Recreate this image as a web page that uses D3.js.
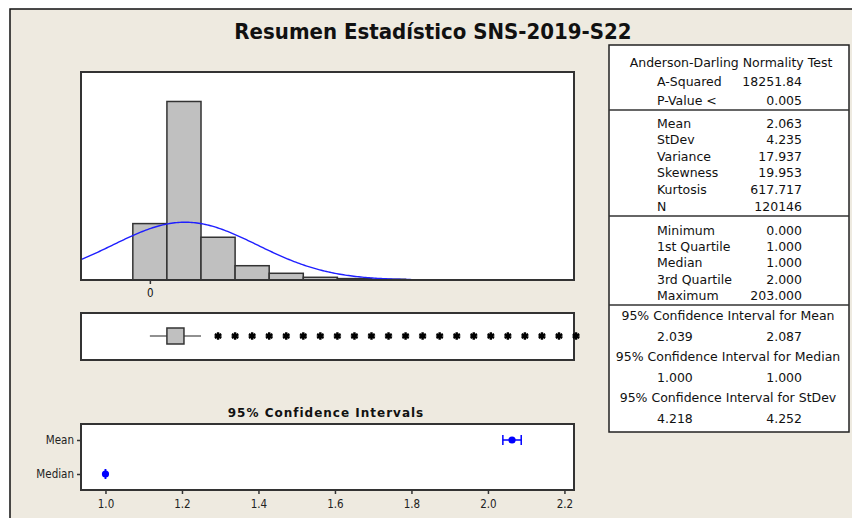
<!DOCTYPE html>
<html>
<head>
<meta charset="utf-8">
<script src="https://cdn.jsdelivr.net/npm/d3@7"></script>
<style>
  body { margin: 0; background: #ffffff; }
  svg { display: block; }
</style>
</head>
<body>
<svg id="my-svg"></svg>
<script>
// histogram bins (midpoints, width 2) and counts
const binMids = [0, 2, 4, 6, 8, 10, 12, 14];
const binCounts = [22100, 69950, 16750, 5600, 2630, 1060, 550, 280];
const binWidth = 2;

// summary statistics
const mean = 2.063, stdev = 4.235, n = 120146;
const boxStats = { q1: 1, median: 1, q3: 2, lo: 0, hi: 3 };
const outliers = [4, 5, 6, 7, 8, 9, 10, 11, 12, 13, 14, 15, 16, 17, 18, 19, 20, 21, 22, 23, 24, 25];

// confidence intervals
const ciNames = ["Mean", "Median"];
const ciCentre = [2.063, 1.000];
const ciLow = [2.039, 1.000];
const ciHigh = [2.087, 1.000];
const ciTicks = [1.0, 1.2, 1.4, 1.6, 1.8, 2.0, 2.2];

// table text
const adRows = [["A-Squared", "18251.84"], ["P-Value <", "0.005"]];
const momentRows = [["Mean", "2.063"], ["StDev", "4.235"], ["Variance", "17.937"],
                    ["Skewness", "19.953"], ["Kurtosis", "617.717"], ["N", "120146"]];
const quantRows = [["Minimum", "0.000"], ["1st Quartile", "1.000"], ["Median", "1.000"],
                   ["3rd Quartile", "2.000"], ["Maximum", "203.000"]];
const ciHeads = ["95% Confidence Interval for Mean", "95% Confidence Interval for Median", "95% Confidence Interval for StDev"];
const ciVals = [["2.039", "2.087"], ["1.000", "1.000"], ["4.218", "4.252"]];

const W = 852, H = 518;
const svg = d3.select("#my-svg").attr("width", W).attr("height", H);
const bg = "#eeeae0";
const edge = "#333333";

svg.append("rect").attr("x", 10).attr("y", 9).attr("width", W).attr("height", H)
    .attr("fill", bg).attr("stroke", "#111").attr("stroke-width", 1.5);

svg.append("text").attr("x", 433).attr("y", 39).attr("text-anchor", "middle")
    .attr("font-family", "DejaVu Sans Condensed").attr("font-weight", "bold")
    .attr("font-size", 22).attr("fill", "#111").text("Resumen Estadístico SNS-2019-S22");

// ---------- histogram ----------
const hx = d3.scaleLinear().domain([-4.04, 24.88]).range([81, 574]);
const hy = d3.scaleLinear().domain([0, 81500]).range([280, 72]);

svg.append("rect").attr("x", 81).attr("y", 72).attr("width", 493).attr("height", 208)
    .attr("fill", "#fff");

svg.selectAll("rect.bar").data(binMids).enter().append("rect")
    .attr("class", "bar")
    .attr("x", d => hx(d - binWidth / 2))
    .attr("width", d => hx(d + binWidth / 2) - hx(d - binWidth / 2))
    .attr("y", (d, i) => hy(binCounts[i]))
    .attr("height", (d, i) => hy(0) - hy(binCounts[i]))
    .attr("fill", "#c0c0c0").attr("stroke", edge).attr("stroke-width", 1.5);

const curveX = d3.range(-4.04, 17.8, 0.1);
const norm = x => n * binWidth * Math.exp(-0.5 * Math.pow((x - mean) / stdev, 2)) / (stdev * Math.sqrt(2 * Math.PI));
svg.append("path").datum(curveX)
    .attr("d", d3.line().x(d => hx(d)).y(d => hy(norm(d))))
    .attr("fill", "none").attr("stroke", "#1f1fff").attr("stroke-width", 1.4);

svg.append("rect").attr("x", 81).attr("y", 72).attr("width", 493).attr("height", 208)
    .attr("fill", "none").attr("stroke", edge).attr("stroke-width", 2);

const hAxis = svg.append("g").attr("transform", "translate(0,280)")
    .call(d3.axisBottom(hx).tickValues([0]).tickSize(4).tickSizeOuter(0));
hAxis.select(".domain").remove();
hAxis.selectAll("text").attr("font-family", "DejaVu Sans Condensed").attr("font-size", 11.5).attr("fill", "#111").attr("dy", "0.9em");
hAxis.selectAll("line").attr("stroke", edge).attr("stroke-width", 1.5);

// ---------- boxplot ----------
const by = 336;
svg.append("rect").attr("x", 81).attr("y", 313).attr("width", 493).attr("height", 47)
    .attr("fill", "#fff").attr("stroke", edge).attr("stroke-width", 2);
svg.append("line").attr("x1", hx(boxStats.lo)).attr("x2", hx(boxStats.hi))
    .attr("y1", by).attr("y2", by).attr("stroke", "#222").attr("stroke-width", 1.2);
svg.append("rect").attr("x", hx(boxStats.q1)).attr("y", by - 8)
    .attr("width", hx(boxStats.q3) - hx(boxStats.q1)).attr("height", 16)
    .attr("fill", "#c0c0c0").attr("stroke", edge).attr("stroke-width", 1.5);
svg.selectAll("path.out").data(outliers).enter().append("path")
    .attr("class", "out")
    .attr("transform", d => `translate(${hx(d)},${by})`)
    .attr("d", d3.symbol(d3.symbolAsterisk, 40))
    .attr("fill", "none").attr("stroke", "#000").attr("stroke-width", 2.4);

// ---------- confidence intervals ----------
const cx = d3.scaleLinear().domain([0.936, 2.225]).range([81, 574]);
const cy = d3.scalePoint().domain(ciNames).range([440, 474]);

svg.append("text").attr("x", 326).attr("y", 417).attr("text-anchor", "middle")
    .attr("font-family", "DejaVu Sans").attr("font-weight", "bold").attr("font-size", 12)
    .attr("letter-spacing", 1).attr("fill", "#111").text("95% Confidence Intervals");

svg.append("rect").attr("x", 81).attr("y", 424).attr("width", 493).attr("height", 66)
    .attr("fill", "#fff").attr("stroke", edge).attr("stroke-width", 2);

const cxAxis = svg.append("g").attr("transform", "translate(0,490)")
    .call(d3.axisBottom(cx).tickValues(ciTicks).tickFormat(d3.format(".1f")).tickSize(4).tickSizeOuter(0));
const cyAxis = svg.append("g").attr("transform", "translate(81,0)")
    .call(d3.axisLeft(cy).tickSize(4).tickSizeOuter(0));
[cxAxis, cyAxis].forEach(a => {
  a.select(".domain").remove();
  a.selectAll("line").attr("stroke", edge).attr("stroke-width", 1.5);
  a.selectAll("text").attr("font-family", "DejaVu Sans Condensed").attr("font-size", 11.5).attr("fill", "#222");
});
cxAxis.selectAll("text").attr("dy", "0.95em");

const ci = ciNames.map((d, i) => ({ name: d, c: ciCentre[i], lo: ciLow[i], hi: ciHigh[i] }));
const blue = "#0000ff";
svg.selectAll("line.cibar").data(ci).enter().append("line").attr("class", "cibar")
    .attr("x1", d => cx(d.lo)).attr("x2", d => cx(d.hi))
    .attr("y1", d => cy(d.name)).attr("y2", d => cy(d.name))
    .attr("stroke", blue).attr("stroke-width", 1.5);
["lo", "hi"].forEach(k => {
  svg.selectAll("line.cap" + k).data(ci).enter().append("line").attr("class", "cap" + k)
      .attr("x1", d => cx(d[k])).attr("x2", d => cx(d[k]))
      .attr("y1", d => cy(d.name) - 5).attr("y2", d => cy(d.name) + 5)
      .attr("stroke", blue).attr("stroke-width", 1.5);
});
svg.selectAll("circle.cidot").data(ci).enter().append("circle").attr("class", "cidot")
    .attr("cx", d => cx(d.c)).attr("cy", d => cy(d.name)).attr("r", 3.6)
    .attr("fill", blue);

// ---------- statistics table ----------
const tx0 = 609, tx1 = 849;
const tbl = svg.append("g");
tbl.append("rect").attr("x", tx0).attr("y", 45).attr("width", tx1 - tx0).attr("height", 387)
    .attr("fill", "#fff").attr("stroke", "#222").attr("stroke-width", 1.5);
[110, 216, 305].forEach(y => {
  tbl.append("line").attr("x1", tx0).attr("x2", tx1).attr("y1", y).attr("y2", y)
      .attr("stroke", "#333").attr("stroke-width", 1.5);
});

const tfont = { family: "DejaVu Sans", size: 12.5 };
function tText(x, y, s, anchor) {
  tbl.append("text").attr("x", x).attr("y", y).attr("text-anchor", anchor)
      .attr("font-family", tfont.family).attr("font-size", tfont.size)
      .attr("fill", "#111").attr("dominant-baseline", "central").text(s);
}
tText(731, 62, "Anderson-Darling Normality Test", "middle");
function rows(list, y0, step) {
  list.forEach((r, i) => {
    tText(657, y0 + i * step, r[0], "start");
    tText(802, y0 + i * step, r[1], "end");
  });
}
rows(adRows, 81, 19);
rows(momentRows, 123, 16.6);
rows(quantRows, 230, 16.4);
ciHeads.forEach((h, i) => {
  tText(728, 315 + i * 41.3, h, "middle");
  tText(657, 336 + i * 41, ciVals[i][0], "start");
  tText(802, 336 + i * 41, ciVals[i][1], "end");
});
</script>
</body>
</html>
